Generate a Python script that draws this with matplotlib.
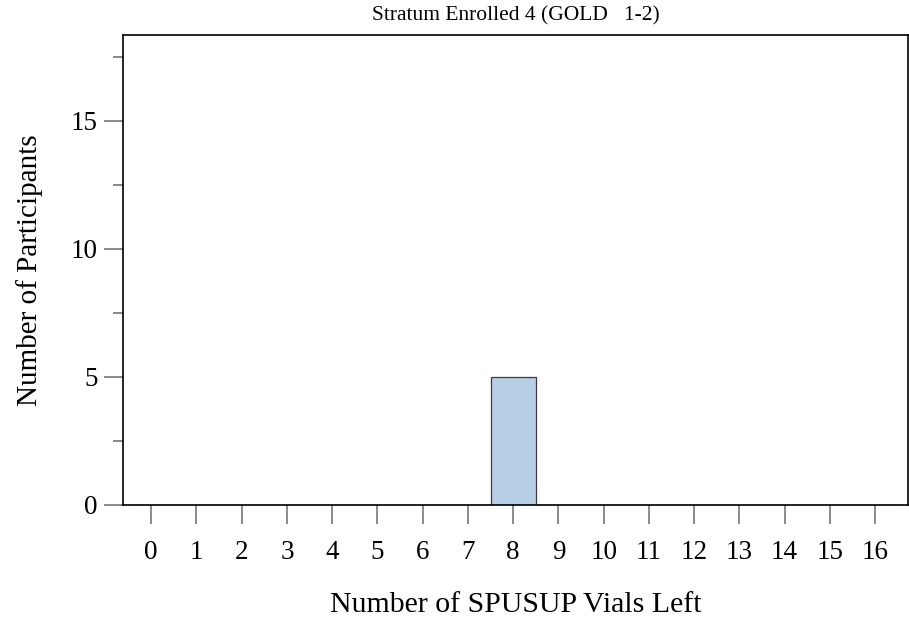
import matplotlib.pyplot as plt
import numpy as np
from matplotlib.ticker import MultipleLocator

plt.rcParams['font.family'] = ['Liberation Serif', 'DejaVu Serif']

# vials left (0..16) and participant counts
vials = list(range(0, 17))
counts = [0, 0, 0, 0, 0, 0, 0, 0, 5, 0, 0, 0, 0, 0, 0, 0, 0]

fig = plt.figure(figsize=(9.09, 6.18), dpi=100)
ax = fig.add_axes([0.135, 0.183, 0.864, 0.761])

ax.bar(vials, counts, width=1.0, color='#b9cfe7',
       edgecolor='#3a3a3a', linewidth=0.9)

ax.set_xlim(-0.63, 16.73)
ax.set_ylim(0, 18.37)
ax.set_xticks(vials)
ax.yaxis.set_major_locator(MultipleLocator(5))
ax.yaxis.set_minor_locator(MultipleLocator(2.5))

ax.tick_params(axis='both', which='major', length=14, width=1.2,
               color='#777777', labelsize=19.5)
ax.tick_params(axis='y', which='minor', length=7, width=1.2,
               color='#777777')
ax.tick_params(axis='x', pad=11)
ax.tick_params(axis='y', pad=4)

for s in ax.spines.values():
    s.set_linewidth(1.2)
    s.set_color('black')

ax.set_xlabel('Number of SPUSUP Vials Left', fontsize=21.5, labelpad=20)
ax.set_ylabel('Number of Participants', fontsize=21, labelpad=20)
ax.set_title('Stratum Enrolled 4 (GOLD   1-2)', fontsize=15.5, pad=10)

plt.savefig('out.png', dpi=100)
